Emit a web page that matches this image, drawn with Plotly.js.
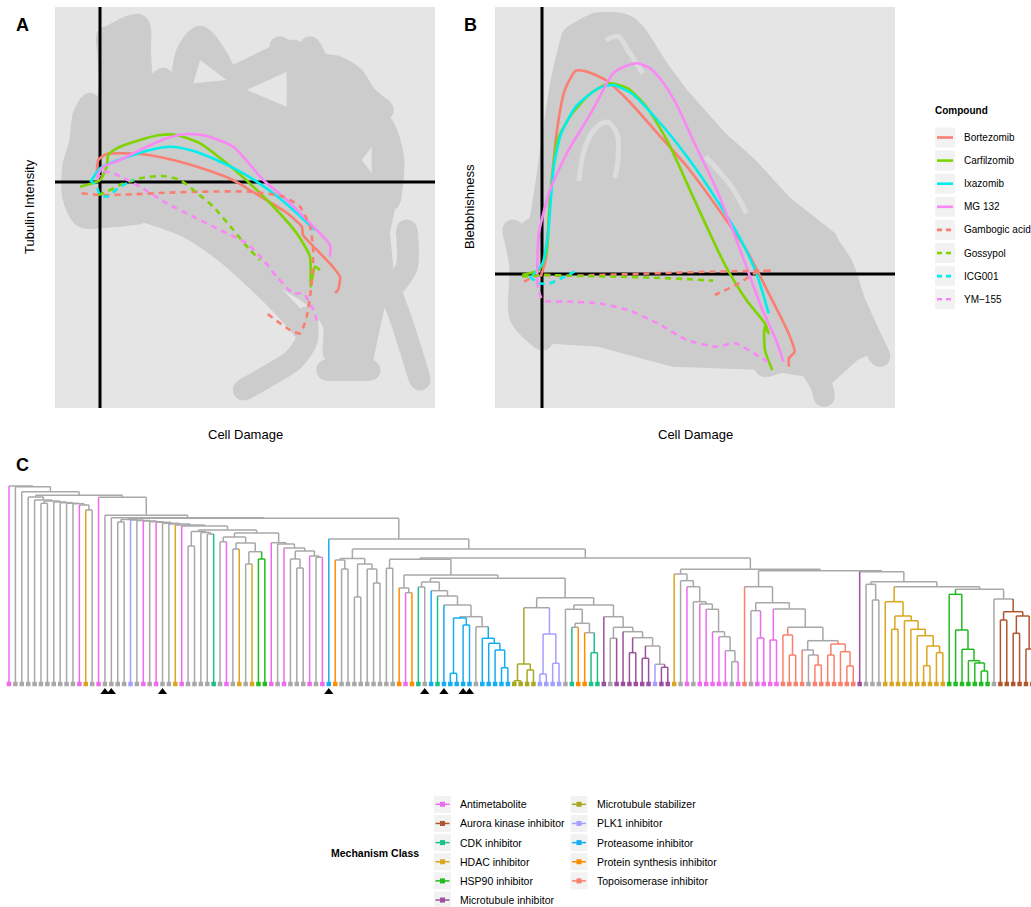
<!DOCTYPE html>
<html>
<head>
<meta charset="utf-8">
<script src="https://cdn.plot.ly/plotly-3.0.1.min.js"></script>
<style>html,body{margin:0;padding:0;background:#fff}#chart{width:1031px;height:907px}</style>
</head>
<body>
<div id="chart"></div>
<script>
// ---------------- Panel A / B : compound trajectories ----------------
const compounds = ['Bortezomib','Carfilzomib','Ixazomib','MG 132','Gambogic acid','Gossypol','ICG001','YM\u2212155'];
const compoundColors = ['#FA7F72','#7ED300','#00EEEE','#F987F5','#FA7F72','#7ED300','#00EEEE','#F987F5'];
const compoundDash = ['solid','solid','solid','solid','6px,5px','6px,5px','6px,5px','6px,5px'];

// Panel A (Cell Damage vs Tubulin Intensity)
const bortezomibAX = [-0.33,-0.17,0.67,4,7.3,10.7,13.3,15.3,18.7,20.2,20.3,21.7,23.3,24,23.8,23.5];
const bortezomibAY = [0.53,2.2,2.8,2.8,2.2,1.2,0.2,-1,-3.1,-4.5,-5.3,-6.8,-8.5,-9.5,-10.8,-11.1];
const carfilzomibAX = [-2,0,0.67,0.83,1.67,4,6,7.67,10,12.67,15.33,17.67,19.67,21,21.07,21.5,22];
const carfilzomibAY = [-0.47,0.2,1.53,2.7,3.37,4.2,4.7,4.7,3.87,1.87,-0.47,-2.8,-5.13,-7.47,-10.47,-8.47,-8.8];
const ixazomibAX = [-0.83,0,1,3.33,5,7,9,11.67,14.33,17.33,19.33,21.5];
const ixazomibAY = [0.2,1.37,1.87,2.7,3.2,3.53,3.2,2.2,0.87,-1.13,-2.8,-4.8];
const mg132AX = [-0.33,0.33,2,4,6.67,8.67,10.67,13.33,16.33,18.67,21.33,23,23];
const mg132AY = [0.53,1.53,2.2,3.2,4.37,4.8,4.6,3.53,0.2,-1.8,-4.47,-6.3,-7.47];
const gambogicAX = [-1.83,0,3.33,6.67,10,15,18.33,20,21,21.33,21.17,20.67,20,19,16.67];
const gambogicAY = [-1.13,-1.3,-1.23,-1.07,-0.97,-0.97,-1.47,-2.47,-4.47,-6.8,-10.13,-13.47,-15.13,-14.8,-13.13];
const gossypolAX = [-0.17,0.67,2,4,6.33,8,9.33,11.33,13.33,15,16];
const gossypolAY = [-1.3,-0.97,-0.3,0.37,0.6,0.2,-0.8,-2.47,-4.8,-6.8,-7.8];
const icg001AX = [-1,-0.33,0,0.67,2,3.33];
const icg001AY = [0.2,-0.47,-1.3,-1.47,-0.47,0.2];
const ym155AX = [-0.33,0.33,1.33,4,6.67,9.33,12,14.67,16.33,17.67,19.33,20.33,21.33,21.83];
const ym155AY = [0.2,1.03,0.87,-0.47,-2.13,-3.47,-4.8,-6.13,-7.8,-9.47,-11.13,-11.13,-12.8,-14.3];

// Panel B (Cell Damage vs Blebbhishness)
const bortezomibBX = [-0.12,0.36,0.8,1.55,2.28,3.39,4.51,6.36,8.58,11.55,14.51,17.48,20.44,22.67,24.51,25.26,24.7,24.7];
const bortezomibBY = [-0.27,1.4,7.4,14.73,18.4,20.33,20.23,19.4,17.4,14.07,10.73,6.73,2.4,-1.93,-5.6,-7.77,-8.43,-9.27];
const carfilzomibBX = [-1.98,-0.31,0.44,0.8,1.55,3.03,4.88,6.73,8.58,10.44,12.66,15.25,18.22,20.44,22.29,22.67,22.26,22.29,23.03];
const carfilzomibBY = [-0.1,0.4,2.07,7.4,13.4,16.07,18.07,19.07,18.57,16.73,13.07,7.4,1.07,-2.6,-4.93,-5.93,-5.3,-7.6,-9.6];
const ixazomibBX = [-1.05,0.06,0.61,1.17,1.92,3.39,5.62,7.11,8.95,11.55,14.51,17.48,20.07,21.56,22.67];
const ixazomibBY = [-0.27,1.07,4.07,10.73,14.07,16.73,18.57,18.9,18.07,15.4,11.73,7.4,3.07,-0.27,-3.93];
const mg132BX = [-0.5,-0.31,0.8,2.66,4.88,7.11,8.22,9.51,10.81,11.92,13.4,15.25,17.48,20.07,21.92,23.4,24.15];
const mg132BY = [-0.93,4.07,8.4,12.4,16.07,20.07,20.73,21.07,20.57,19.4,17.07,13.07,8.4,1.73,-3.27,-6.6,-8.77];
const gambogicBX = [-1.79,-0.31,1.92,5.62,9.33,13.03,16.73,20.44,23.03,21.56,19.7,17.29];
const gambogicBY = [-0.77,-0.1,-0.2,-0.1,0,0.13,0.23,0.3,0.33,0.23,-0.93,-2.1];
const gossypolBX = [-1.98,0.06,3.77,7.47,11.17,14.89,17.11];
const gossypolBY = [-0.27,-0.1,-0.2,-0.27,-0.37,-0.53,-0.67];
const icg001BX = [-1.23,-0.31,0.8,1.92,3.58];
const icg001BY = [-0.27,-0.93,-0.93,-0.43,0.4];
const ym155BX = [-0.5,0.06,2.66,5.62,8.58,11.55,14.51,17.48,19.33,21.18,22.84];
const ym155BY = [-0.77,-2.6,-2.77,-2.93,-3.6,-4.93,-6.6,-7.27,-6.93,-7.93,-8.93];

// Background trajectories of all compounds (thick grey): covered area + stroke outlines + uncovered pockets
const grayAreaAX = [-2.33,-1.33,0.67,1,3.67,4.33,4.67,6.33,8,8.67,10,11.67,13.33,18.33,21,22.67,25.33,28.33,29.67,29.67,29,29.33,28.33,27.33,23.33,22.67,21.33,20,16.67,13.33,8.67,4,0,-2.67];
const grayAreaAY = [3.87,7.87,8.53,14.2,15.87,13.87,10.2,9.87,10.2,12.87,14.53,12.53,10.53,12.87,13.53,11.53,10.53,7.2,3.53,-1.8,-5.13,-8.47,-13,-17.8,-17.8,-15.13,-12.8,-11.8,-9.8,-7.13,-4.47,-3.13,-3.8,-1.8];
const grayAX = [1,3.83,4,4.33,5.33,6.33,null, 0.67,1,0.67,0,0.33,null, 8,8.67,10,11.67,13.33,16.67,20,null, 12.67,18.33,19.33,null, 18,19,null, 21,22,23.67,25.33,26.67,28.33,null, 19.33,25,28.33,29.33,29,null, -1,-1.67,-2,-2.67,-2.67,-1.67,0.67,4,null, 4,8.67,12.67,16,18.67,20.67,null, 14.33,16.67,19.33,20.67,20.67,null, 22.67,27,null, 23.33,23.33,21.67,null, 28.33,30,32,null, 30.67,30.67,29.33];
const grayAY = [14.53,15.7,12.87,10.2,9.53,10.37,null, 14.53,9.87,7.2,3.2,-0.13,null, 8.2,12.87,14.53,12.53,9.53,7.53,5.53,null, 10.2,12.87,13.2,null, 13.53,11.53,null, 13.53,11.87,11.53,10.53,8.53,7.2,null, 8.87,8.2,5.53,2.2,-1.8,null, 7.87,6.53,3.87,1.53,-1.47,-3.47,-3.47,-3.13,null, -2.8,-4.47,-7.13,-10.13,-12.8,-15.13,null, -20.8,-19.47,-17.8,-15.8,-13.47,null, -18.8,-18.8,null, -17.13,-11.8,-8.47,null, -9.13,-13.47,-19.8,null, -4.8,-8.47,-10.47];
const pocketA1X = [10,9.33,12.67], pocketA1Y = [12.2,9.87,10.2];
const pocketA2X = [14.67,18.67,18.67], pocketA2Y = [9.2,11.03,7.53];
const pocketA3X = [26.17,27.17,27.17], pocketA3Y = [2.2,3.53,0.87];

const grayAreaBX = [1.92,5.62,8.58,11.55,14.51,18.96,23.4,26.37,29.33,30.81,31.93,33.78,31.56,28.22,26.37,22.29,13.03,5.62,0.06,-2.53,-3.27,-0.68,0.06,1.54];
const grayAreaBY = [23.73,25.57,25.4,22.4,18.4,13.4,8.73,6.4,4.07,1.07,-3.6,-7.6,-8.6,-11.6,-10.27,-9.6,-9.27,-7.27,-6.93,-4.27,4.07,6.07,10.73,19.07];
const grayBX = [3.03,5.62,8.58,10.81,13.03,16.73,20.44,24.15,27.85,null, 3.03,1.92,1.17,0.44,-0.31,-0.67,-0.31,null, 4.88,6.36,8.58,11.55,14.51,18.95,22.29,null, -2.9,-2.16,-2.16,0.06,null, 24.15,27.85,30.07,31.18,32.67,33.78,null, 22.29,26,27.85,28.22,null, 4.88,4.14,3.03];
const grayBY = [23.73,25.07,24.73,21.73,18.07,14.07,10.73,6.73,3.4,null, 23.73,19.07,14.07,9.07,4.07,-2.6,-5.93,null, 10.73,17.4,19.07,15.73,13.07,8.73,5.73,null, 4.4,0.73,-4.27,-6.6,null, 6.07,3.73,0.73,-2.6,-5.93,-8.27,null, -9.27,-8.6,-10.93,-12.27,null, 22.4,17.4,12.4];
const sliverBX = [6.36,7.66,8.58,10.07,null, 16.36,18.96,20.44,null, 3.7,4.2,5.2,6.5,7.5,7.6,7.3];
const sliverBY = [23.4,23.73,22.4,20.07,null, 11.73,8.73,6.07,null, 9.3,12.3,14.4,15.2,14,11.5,9.6];

// ---------------- Panel C : dendrogram ----------------
const classCodes = ['A','K','C','H','S','M','T','P','R','O','X'];
const classNames = ['Antimetabolite','Aurora kinase inhibitor','CDK inhibitor','HDAC inhibitor','HSP90 inhibitor','Microtubule inhibitor','Microtubule stabilizer','PLK1 inhibitor','Proteasome inhibitor','Protein synthesis inhibitor','Topoisomerase inhibitor'];
const classColors = ['#EE6AEE','#B0562E','#1DBF8B','#DAA520','#22BB22','#9C4F9E','#A8A820','#A59FFF','#15ADF2','#FF8C00','#F8806F'];
const otherColor = '#A8A8A8';
// leaf classes in display order (G = other compound)
const leafClasses = ('AGGGGGGGGG'+'GAHGAGGGGP'+'GAGAGGHAGG'+'GGCGAGHGHS'+'SAGAGGGAGA'+
  'ROGGGGGGGG'+'GOAOCGRCRR'+'RRRGRRRRRT'+'TTTPPPPGCO'+'OCCMGMMMMM'+
  'MPMMHGAGAA'+'AAAGAXGAAA'+'AXXXXGXXXX'+'XXXMGGGHHH'+'HHHHHHHSSS'+'SSSSGKKKKK'+'K').split('');
const markedLeaves = [15,16,24,50,65,68,71,72];

// merge tree (leaf index, merge heights)
const treeLeft = "(3,(4,((5,6):179.7,(7,(8,(9,(10,(11,(12,13):173):178):179.3):179.7):180.3):181):182):183):186";
const treeA28 = "((28,29):137,(30,(31,32):149):150.5):151.5";
const treeB33 = "(((33,34):141.3,((35,36):134,((37,38):119,(39,40):124):131.3):140):146,(41,(42,(43,((44,(45,46):115):124,(47,(48,49):125.7):127):132):135):139):140.3):150";
const treeChain17 = "((17,18):161,(19,(20,(21,(22,(23,(24,(25,(26,(27,(" + treeA28 + "," + treeB33 + "):153):157):158):159):159.7):160.7):161.3):162):162.5):163):163.5";
const treeN352 = "((51,(52,53):114):123,((54,55):86,(56,(57,58):100):114):119):124.5";
const treePb = "(66,(67,(68,(((69,70):9.7,(71,72):58):65,(73,(74,(75,(76,(77,78):15.3):33):39.7):44.7):56.3):66.3):78):87):92.3";
const treeNP6 = "(((79,80):2.3,(81,82):13):19,((83,84):9,(85,86):19.7):49):75.3";
const treeNP7 = "((87,((88,89):55.7,(90,(91,92):30.3):50.3):59.7):73.7,(93,((94,95):44.7,(96,((97,98):30.3,((99,100):24.7,(101,(102,103):15.7):18.7):37):45.3):51.3):55.7):66.3):78";
const treeNP = "((59,60):114.7,((61,(62,63):90.3):95,(((64,65):96," + treePb + "):101,(" + treeNP6 + "," + treeNP7 + "):85.3):104.7):108):123.7";
const treeN104 = "(104,(105,(106,(107,(108,(109,(110,(111,(112,(113,114):21.3):32.3):46.3):51.3):73.7):79):81.3):96.3):102.3):109";
const treeN762 = "(115,((116,(117,118):45):72.3,((119,120):43,((121,(122,123):28):48,((124,(125,(126,127):18):28):33,((128,129):28,(130,(131,132):17):31.3):39):42.3):55.7):74):80.3):96.3";
const treeHD = "(137,((138,139):53.7,(140,(141,(142,((143,144):17.3,(145,146):30.3):37):47.3):53.7):62.3):67):81.3";
const treeGR = "(147,(148,(149,(150,(151,(152,153):12):20):22.3):33.7):53):88.7";
const treeAU = "((155,156):63,((157,158):49.7,(159,160):34):67):71.3";
const treeN1125 = "(133,((134,(135,136):83):98.7,(" + treeHD + ",(" + treeGR + ",(154," + treeAU + "):84):93.7):96.3):101.3):111.3";
const treeNQ = "(" + treeN104 + ",(" + treeN762 + "," + treeN1125 + "):112.3):113.7";
const treeBig = "(50,(" + treeN352 + ",(" + treeNP + "," + treeNQ + "):125):134):144";
const treeRoot = "(0,(1,(2,(" + treeLeft + ",(14,(15,(16,(" + treeChain17 + "," + treeBig + "):164.7):165.3):167.7):185.7):187.7):191.3):196.3):197";

function parseTree(s){
  let i = 0;
  function node(){
    if (s[i] === '('){
      i++; const a = node(); i++; const b = node(); i++; i++;
      let j = i; while (i < s.length && /[0-9.]/.test(s[i])) i++;
      return {kids:[a,b], h:parseFloat(s.slice(j,i))};
    }
    let j = i; while (i < s.length && /[0-9]/.test(s[i])) i++;
    return {leaf:parseInt(s.slice(j,i),10), h:0};
  }
  return node();
}
const segs = {G:{x:[],y:[]}};
classCodes.forEach(c => segs[c] = {x:[],y:[]});
function addSeg(c,x0,y0,x1,y1){ segs[c].x.push(x0,x1,null); segs[c].y.push(y0,y1,null); }
function walk(n){
  if (n.leaf !== undefined){ n.x = n.leaf; n.cls = leafClasses[n.leaf]; return; }
  const [a,b] = n.kids; walk(a); walk(b);
  n.x = (a.x + b.x)/2;
  n.cls = (a.cls === b.cls) ? a.cls : 'G';
  addSeg(n.cls, a.x, n.h, b.x, n.h);
  addSeg(a.cls, a.x, a.h, a.x, n.h);
  addSeg(b.cls, b.x, b.h, b.x, n.h);
}
walk(parseTree(treeRoot));
const colorOf = c => c === 'G' ? otherColor : classColors[classCodes.indexOf(c)];

// ---------------- axes geometry ----------------
const W = 1031, H = 907;
const px = v => v / W, py = v => 1 - v / H;
const rangeAX = [-4.5, 33.5], rangeAY = [-22.6, 17.5];
const rangeBX = [-4.7, 35.3], rangeBY = [-13.4, 26.7];
const rangeCX = [-9/6.396, (W-9)/6.396], rangeCY = [-17, 203];
const panelBg = '#E5E5E5', trajGray = '#CCCCCC';

const traces = [];
const hid = {visible:false, fixedrange:true};
function area(x,y,xa,ya,color){ traces.push({x:x, y:y, xaxis:xa, yaxis:ya, mode:'lines', fill:'toself', fillcolor:color, line:{width:0, color:color}, showlegend:false, hoverinfo:'skip'}); }
function strokes(x,y,xa,ya,color,w){ traces.push({x:x, y:y, xaxis:xa, yaxis:ya, mode:'lines+markers', line:{color:color, width:w, shape:'spline', smoothing:0.8}, marker:{color:color, size:w-1}, showlegend:false, hoverinfo:'skip', connectgaps:false}); }
// grey backgrounds
area(grayAreaAX, grayAreaAY, 'x', 'y', trajGray);
strokes(grayAX, grayAY, 'x', 'y', trajGray, 22);
area(pocketA1X, pocketA1Y, 'x', 'y', panelBg);
area(pocketA2X, pocketA2Y, 'x', 'y', panelBg);
area(pocketA3X, pocketA3Y, 'x', 'y', panelBg);
area(grayAreaBX, grayAreaBY, 'x2', 'y2', trajGray);
strokes(grayBX, grayBY, 'x2', 'y2', trajGray, 22);
traces.push({x:sliverBX, y:sliverBY, xaxis:'x2', yaxis:'y2', mode:'lines', line:{color:'#DCDCDC', width:5, shape:'spline'}, showlegend:false, hoverinfo:'skip', connectgaps:false});
// origin lines
traces.push({x:[0,0,null,rangeAX[0],rangeAX[1]], y:[rangeAY[0],rangeAY[1],null,0,0], xaxis:'x', yaxis:'y', mode:'lines', line:{color:'#000', width:3}, showlegend:false, hoverinfo:'skip'});
traces.push({x:[0,0,null,rangeBX[0],rangeBX[1]], y:[rangeBY[0],rangeBY[1],null,0,0], xaxis:'x2', yaxis:'y2', mode:'lines', line:{color:'#000', width:3}, showlegend:false, hoverinfo:'skip'});

const dataA = [[bortezomibAX,bortezomibAY],[carfilzomibAX,carfilzomibAY],[ixazomibAX,ixazomibAY],[mg132AX,mg132AY],[gambogicAX,gambogicAY],[gossypolAX,gossypolAY],[icg001AX,icg001AY],[ym155AX,ym155AY]];
const dataB = [[bortezomibBX,bortezomibBY],[carfilzomibBX,carfilzomibBY],[ixazomibBX,ixazomibBY],[mg132BX,mg132BY],[gambogicBX,gambogicBY],[gossypolBX,gossypolBY],[icg001BX,icg001BY],[ym155BX,ym155BY]];
compounds.forEach((name,k) => {
  const ln = {color:compoundColors[k], width:2.6, dash:compoundDash[k], shape:'spline', smoothing:0.6};
  traces.push({x:dataA[k][0], y:dataA[k][1], xaxis:'x', yaxis:'y', mode:'lines', line:ln, name:name, showlegend:false, hoverinfo:'skip'});
  traces.push({x:dataB[k][0], y:dataB[k][1], xaxis:'x2', yaxis:'y2', mode:'lines', line:ln, name:name, showlegend:false, hoverinfo:'skip'});
});

// dendrogram segments
['G'].concat(classCodes).forEach(c => {
  traces.push({x:segs[c].x, y:segs[c].y, xaxis:'x3', yaxis:'y3', mode:'lines', line:{color:colorOf(c), width:1.5}, showlegend:false, hoverinfo:'skip'});
});
// leaf squares and marked compounds
const leafIdx = leafClasses.map((c,i) => i);
traces.push({x:leafIdx, y:leafIdx.map(() => -1), xaxis:'x3', yaxis:'y3', mode:'markers', marker:{symbol:'square', size:4.5, color:leafClasses.map(colorOf)}, showlegend:false, hoverinfo:'skip'});
traces.push({x:markedLeaves, y:markedLeaves.map(() => -9), xaxis:'x3', yaxis:'y3', mode:'markers', marker:{symbol:'triangle-up', size:8, color:'#000'}, showlegend:false, hoverinfo:'skip'});

// ---------------- legends ----------------
const shapes = [
  {type:'rect', xref:'x domain', yref:'y domain', x0:0, x1:1, y0:0, y1:1, fillcolor:panelBg, line:{width:0}, layer:'below'},
  {type:'rect', xref:'x2 domain', yref:'y2 domain', x0:0, x1:1, y0:0, y1:1, fillcolor:panelBg, line:{width:0}, layer:'below'}
];
const annotations = [];
function ann(text, x, y, size, opts){ annotations.push(Object.assign({text:text, x:px(x), y:py(y), xref:'paper', yref:'paper', showarrow:false, xanchor:'center', yanchor:'middle', font:{size:size}}, opts||{})); }
ann('<b>A</b>', 22, 25, 18); ann('<b>B</b>', 470, 25, 18); ann('<b>C</b>', 22, 465, 18);
ann('Cell Damage', 245, 435, 13); ann('Cell Damage', 695, 435, 13);
ann('Tubulin Intensity', 30, 207, 13, {textangle:-90});
ann('Blebbhishness', 470, 207, 13, {textangle:-90});
// compound legend
ann('<b>Compound</b>', 933, 110, 10, {xanchor:'left'});
compounds.forEach((c,k) => {
  const yc = 137.5 + 23.1*k;
  shapes.push({type:'rect', xref:'paper', yref:'paper', x0:px(935), x1:px(955), y0:py(yc+10), y1:py(yc-10), fillcolor:'#F2F2F2', line:{width:0}});
  shapes.push({type:'line', xref:'paper', yref:'paper', x0:px(937), x1:px(953), y0:py(yc), y1:py(yc), line:{color:compoundColors[k], width:2.6, dash: compoundDash[k] === 'solid' ? 'solid' : '5px,4px'}});
  ann(c, 962, yc, 10, {xanchor:'left'});
});
// mechanism class legend (two columns)
ann('<b>Mechanism Class</b>', 421, 853, 10.5, {xanchor:'right'});
classNames.forEach((nm,k) => {
  const col = k < 6 ? 0 : 1, row = k < 6 ? k : k - 6;
  const yc = 804.3 + 19.15*row;
  const bx = col === 0 ? 434 : 570.5;
  shapes.push({type:'rect', xref:'paper', yref:'paper', x0:px(bx), x1:px(bx+17), y0:py(yc+8.5), y1:py(yc-8.5), fillcolor:'#F2F2F2', line:{width:0}});
  shapes.push({type:'line', xref:'paper', yref:'paper', x0:px(bx+1.5), x1:px(bx+15.5), y0:py(yc), y1:py(yc), line:{color:classColors[k], width:1.5}});
  shapes.push({type:'rect', xref:'paper', yref:'paper', x0:px(bx+6), x1:px(bx+11), y0:py(yc+2.5), y1:py(yc-2.5), fillcolor:classColors[k], line:{width:0}});
  ann(nm, bx + 24, yc, 10.5, {xanchor:'left'});
});

const yDomAB = [py(408), py(7)];
const layout = {
  width:W, height:H,
  margin:{l:0, r:0, t:0, b:0, autoexpand:false},
  paper_bgcolor:'#FFFFFF', plot_bgcolor:'rgba(0,0,0,0)',
  font:{family:'Liberation Sans, Arial, sans-serif', color:'#000', size:11},
  xaxis: Object.assign({domain:[px(55), px(435)], range:rangeAX}, hid),
  yaxis: Object.assign({domain:yDomAB, range:rangeAY}, hid),
  xaxis2: Object.assign({domain:[px(495), px(895)], range:rangeBX}, hid),
  yaxis2: Object.assign({domain:yDomAB, range:rangeBY}, hid),
  xaxis3: Object.assign({domain:[0,1], range:rangeCX}, hid),
  yaxis3: Object.assign({domain:[py(700), py(480)], range:rangeCY}, hid),
  shapes:shapes,
  showlegend:false,
  annotations:annotations
};
Plotly.newPlot('chart', traces, layout, {staticPlot:true, displayModeBar:false});
</script>
</body>
</html>
